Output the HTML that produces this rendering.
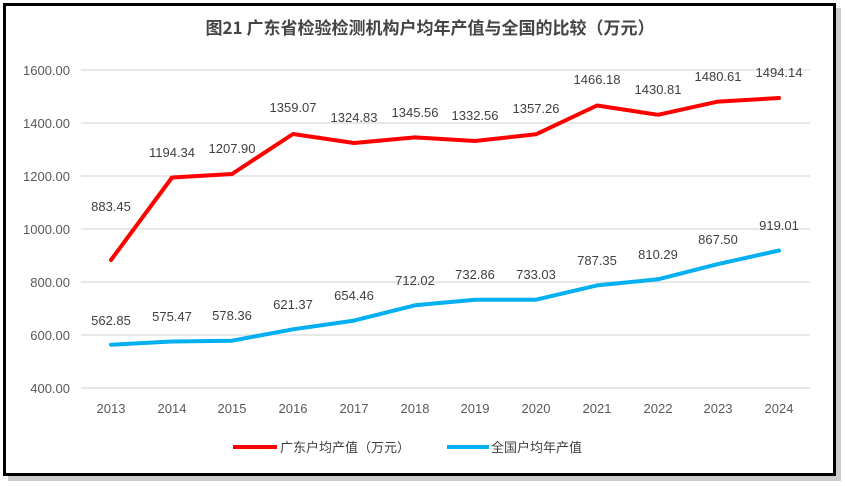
<!DOCTYPE html>
<html><head><meta charset="utf-8"><style>
body{margin:0;background:#fff;}
svg{display:block;font-family:"Liberation Sans","Noto Sans CJK SC",sans-serif;}
</style></head><body>
<svg width="845" height="486" xmlns="http://www.w3.org/2000/svg">
<rect x="0" y="0" width="845" height="486" fill="#fff"/>
<rect x="8" y="8" width="833" height="473" fill="#999" opacity="0.5"/>
<rect x="4.5" y="4.5" width="830" height="470" fill="#fff" stroke="#000" stroke-width="3"/>
<text x="430" y="34" text-anchor="middle" font-size="17" font-weight="bold" fill="#444" font-family="'Noto Sans CJK SC',sans-serif">图21  广东省检验检测机构户均年产值与全国的比较（万元）</text>
<g stroke="#d9d9d9" stroke-width="1.2">
<line x1="81" x2="810" y1="70" y2="70"/><line x1="81" x2="810" y1="123" y2="123"/>
<line x1="81" x2="810" y1="176" y2="176"/><line x1="81" x2="810" y1="229" y2="229"/>
<line x1="81" x2="810" y1="282" y2="282"/><line x1="81" x2="810" y1="335" y2="335"/>
<line x1="81" x2="810" y1="388" y2="388"/>
</g>
<g font-size="13" fill="#595959" text-anchor="end">
<text x="70" y="75">1600.00</text><text x="70" y="128">1400.00</text><text x="70" y="181">1200.00</text>
<text x="70" y="234">1000.00</text><text x="70" y="287">800.00</text><text x="70" y="340">600.00</text><text x="70" y="393">400.00</text>
</g>
<g font-size="13" fill="#595959" text-anchor="middle">
<text x="111" y="413">2013</text><text x="172" y="413">2014</text><text x="232" y="413">2015</text><text x="293" y="413">2016</text>
<text x="354" y="413">2017</text><text x="415" y="413">2018</text><text x="475" y="413">2019</text><text x="536" y="413">2020</text>
<text x="597" y="413">2021</text><text x="658" y="413">2022</text><text x="718" y="413">2023</text><text x="779" y="413">2024</text>
</g>
<polyline fill="none" stroke="#ff0000" stroke-width="4" stroke-linejoin="round" stroke-linecap="round" points="111,260 172,177.5 232,174 293,134 354,143 415,137.4 475,141 536,134.3 597,105.5 658,114.8 718,101.6 779,98"/>
<polyline fill="none" stroke="#00b0f0" stroke-width="4" stroke-linejoin="round" stroke-linecap="round" points="111,344.8 172,341.5 232,340.7 293,329.3 354,320.6 415,305.3 475,299.8 536,299.7 597,285.4 658,279.3 718,264.1 779,250.5"/>
<g font-size="13" fill="#404040" text-anchor="middle">
<text x="111" y="211">883.45</text><text x="172" y="157">1194.34</text><text x="232" y="153">1207.90</text><text x="293" y="112">1359.07</text>
<text x="354" y="122">1324.83</text><text x="415" y="117">1345.56</text><text x="475" y="120">1332.56</text><text x="536" y="113">1357.26</text>
<text x="597" y="84">1466.18</text><text x="658" y="94">1430.81</text><text x="718" y="81">1480.61</text><text x="779" y="77">1494.14</text>
<text x="111" y="325">562.85</text><text x="172" y="321">575.47</text><text x="232" y="320">578.36</text><text x="293" y="309">621.37</text>
<text x="354" y="300">654.46</text><text x="415" y="285">712.02</text><text x="475" y="279">732.86</text><text x="536" y="279">733.03</text>
<text x="597" y="265">787.35</text><text x="658" y="259">810.29</text><text x="718" y="244">867.50</text><text x="779" y="230">919.01</text>
</g>
<line x1="233" x2="277" y1="447" y2="447" stroke="#ff0000" stroke-width="4"/>
<text x="280" y="452" font-size="13" fill="#404040">广东户均产值（万元）</text>
<line x1="447" x2="489" y1="447" y2="447" stroke="#00b0f0" stroke-width="4"/>
<text x="491" y="452" font-size="13" fill="#404040">全国户均年产值</text>
</svg>
</body></html>
